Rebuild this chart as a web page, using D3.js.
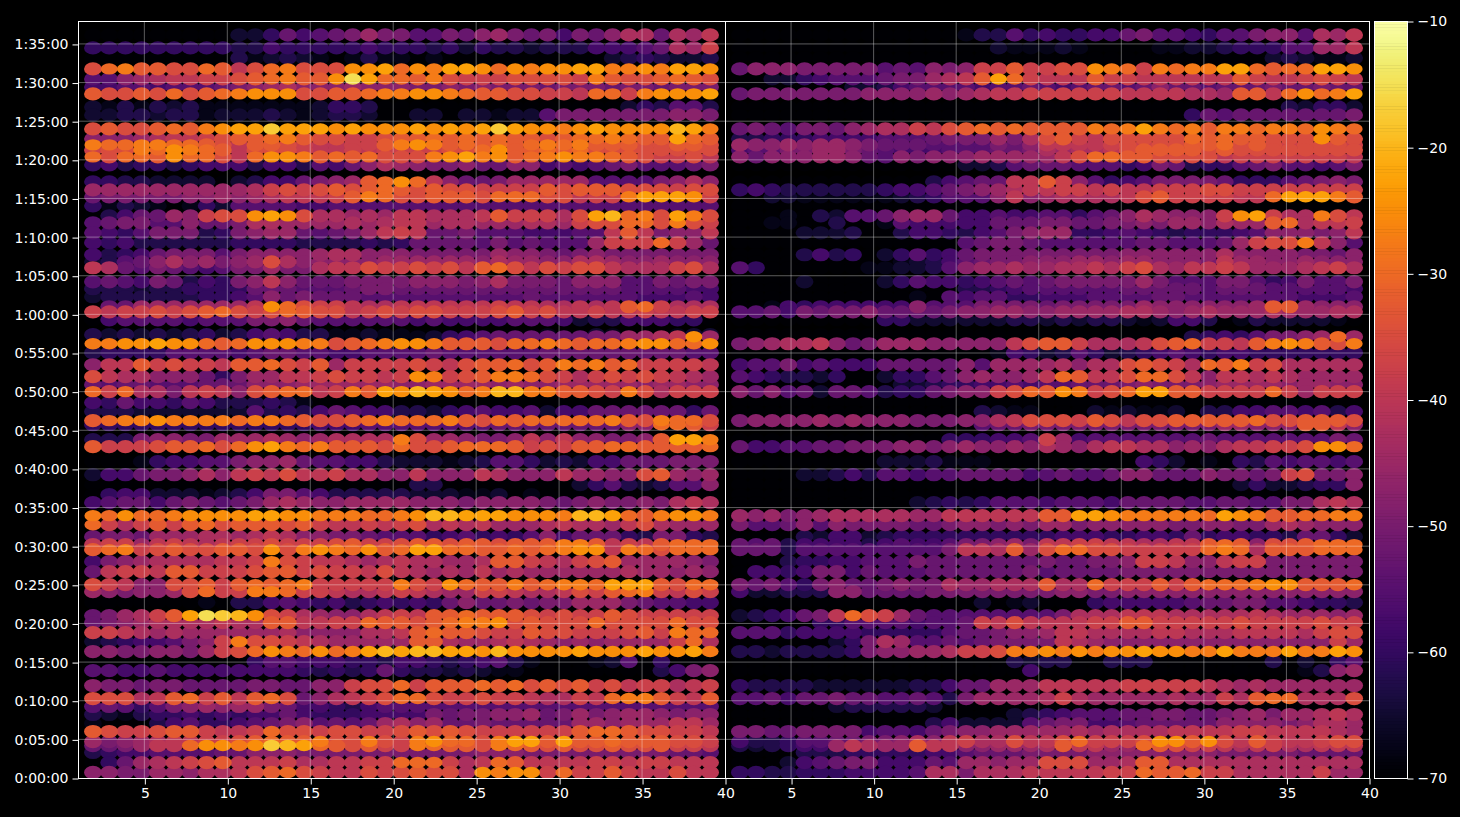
<!DOCTYPE html>
<html>
<head>
<meta charset="utf-8">
<script src="https://cdnjs.cloudflare.com/ajax/libs/d3/7.8.5/d3.min.js"></script>
<style>
html,body{margin:0;padding:0;background:#000;}
svg{display:block;}
text{font-family:"DejaVu Sans",sans-serif;}
</style>
</head>
<body>
<svg id="chart" width="1460" height="817"></svg>
<script>
// Level alphabet: a = -70 dB, each following letter is 2.5 dB louder.
const levelLetters = "abcdefghijklmnopqrstuvwxy";
const levelFloor = -70;
const levelStep = 2.5;

// Time of each row, in seconds.
const rowSeconds = [5770,5669,5591,5506,5428,5366,5312,5211,5149,5040,4963,4916,4877,4823,4761,4629,4567,4513,4443,4365,4311,4233,4156,4063,4008,3962,3853,3799,3737,3659,3620,3558,3442,3426,3372,3302,3209,3116,3054,3000,2915,2845,2775,2743,2627,2573,2456,2355,2278,2200,2138,2037,1967,1874,1812,1773,1680,1602,1501,1447,1362,1261,1207,1129,1059,982,904,834,718,617,555,493,423,361,283,252,198,120,43];

// Band positions along the horizontal axis.
const bandFirst = 1.9;
const bandSpacing = 0.979;
const bandCount = 39;

const leftRows = [
"aaaaaaaaac cehfghikii ggihjkihif ihjllhlkm",
"eeeeeeeeed dfeeeeefee edeceddcdd dfffghlkn",
"aaaaaaaaad bcdcbabdbb abaaaaaaaa aacdedccd",
"oqrppooqpm oqrooosstq srttsqsrss ttrrsrtts",
"ggjklmmnno pqrppswtqq pronnnoooo nrpoopqpo",
"ffggfggghi jkljjjkjjj iijijiiihi iihiihiii",
"poopoqopqr sssooppqrr ssrqppoonn mqqnrssst",
"cbdbdcdbbb bbbbceedaa aaaaaaaaaa aaacedggd",
"ccddcddbcc cdcbcddcaa ccaccbccgi iiiiiijji",
"opoopqprst tvtttstsss tststvtssr stssssutr",
"jjjklmmnop pqrpoonnop pqpqpqppop qqrqpptqp",
"rqqrrqqpom pponmmnnpr srpqpqpqrq rpppooppo",
"noorqsrqpm ooonmmnmnn nnooqsppqp qoooooooo",
"qoqqpsqqom qssrpqpqoo orstrspqrs rrqponnom",
"efdeedefff dffdgfhjlk jiijhhjjfg fghiggghi",
"eeddccccac dffhijkpqs qmjhhikkkk kggggijlj",
"kkkkkkkkkk lnonopopqp opoonnnnpo pppooonoo",
"hiiiiijjkj klmmmnprqo opppoqqqoo mnnrtttsn",
"ebdcbabecg gggffggggg gggggggggg ggggggggg",
"adfhhkjnoo stsollklkm mlllmpnnnl otuqrotro",
"ghiiggjhhi llkkkklklm mkllkkkllk nooqqoron",
"gfegiiidei jkkhghikmn mhhigggfff ggmpmijjm",
"fefdddddde eeeddddede hhhhgighgg gknnnqnkh",
"fdefhiiigi jjjjklljjj iiiiikjjih ijiiiiiii",
"cdghjljkij koljjjjjkk kkkkjlkkjj llkjjkjjj",
"mlhgihgfgi ikiilmmonn onompqomon oomlllnol",
"ghgfihdfei jmjhhhiiii jjjijliiih jjjggihii",
"dddcddeeee hhhggghiih hhhhhhhhhh hhhggggff",
"cddddddeef gjhihhhggg ggggggghgg ggggfffgf",
"ahhkkkkkkk msqonnmllm mmmmmnmmll mlmpqnlll",
"nmnnonopqo noqpoomnon oonnnopnom mnmmnmmnn",
"afggggfggg iijhgggggg fgffffgggf cddfffeea",
"dcdcdcdecd fgfddbbcbb aaaaaaaaba acbaaabcc",
"aaaaaaaaaa aaaaaaaaaa bcefghhhhh hiikklmsk",
"rrsstssqpq sssrropqrs srpppoqqrq pqqrssqqs",
"deeeeggggf ghhggffggg ghgggggghh hhhhhhhgg",
"jmmpnonnmp pqonpknnnn onmoppqopr qrpqnnnnm",
"omlljjjhei kkmmnonnmn srnoprrqon lnononmlk",
"hghhggghhh jjjkkkkkkj jkkkkjkjjk kkkkjkkjj",
"qnqllimnmj opqqmnrpts utsqruurrp ponrolnnn",
"fehffegfdd dedbaaaaaa aaaaaaaaaa aaaaaaaaa",
"dddccccccc gdedfhgffd dcefgffgcf fhhhhhheh",
"pqrrsrrrrq rrqpoopqrq qqrpoqpqqq qqrporqqo",
"eeeeeeeeee eeeefffggg ggggghhhhh hhhjjqqpn",
"dddijjiikk klkjkllllr okkjiijmjm jjiijpttr",
"pnnnoppqoq strqrpppoq oopqqqpnon ppqqppppq",
"aaabeffggi jjkhggffdc ccbcdggecd cffhhhiii",
"cffhiijljm nmommnlljj mjjjmljjjm kkjjopkjk",
"aaaaaaaaaa aaaaaaaaaa ddaaaaaaaa cegdcdggj",
"aeffcccbcd fiigfddddd cccbbcabaa aaaaaaaaa",
"fghhfhihgh iklkjjkkkk jjjijjjjih ijiijilml",
"rqsqqrssss ttssrrrqqr suutttsssr uutqprssr",
"qnlnpnpqop ppopnmmnmn olmlmkkklm llkmolkkk",
"hiihkkkllk lmljjiihgg gefgefegjf hhhediied",
"mnnkmnmlmn nonnnopnno ppoppopppr rpmnmpqqq",
"pqrnopoopp osorsrqspq ttqqppqpqr ssmrqoqqq",
"fijkllllmm nronmmlklm llkklppnml nopkkkkji",
"hmnnmppnnn oppnonnmom lklkmklkkk kkklkkjkj",
"onmjjoopnp qpqrnnnnnr onsqpprpqr rqtttpoqq",
"kjijjkoqnn rrqnnmllmn mlkknnmllm onpqrnmon",
"aaaaaaabad dfgfefdefe fehjhhihii kkkihggff",
"hiklnptwvu sonlkjjlmn mppqpppono nnponnnnn",
"hijkllllml lppmmnnqpp opqrrsopoo oqooooqoo",
"nnmlklkkkk kkljjjjllm pqpponnpoo nnnopnrqq",
"cdeffgijnr oonmlkkkkk pplkklmlkj kjkkkknql",
"jjiijjikno qsrqsqrtut uuttsussss tssstsstr",
"aaaaaaaaaa eggfffeedf fedefgdbaa abcgaeaaa",
"ggffgfffff fffededehe ddcdcbbaaa aaaaadfij",
"jiihiihhhh iihhjjnooq npppqpqopo pnomnnlmn",
"ooolmpqnpm pqohjlmnoq qonnonnmll nmqrrpnmp",
"ghgegijkjk kihffedfgg gggggggggg ggggggggg",
"dcbdeefefe ffhfeeefff fihiijjkhi kijkkjijj",
"baaadfgeef ghijghghkl jkhhihhhhh kkjkkkmmk",
"ponnoppnmm nqoonoonno poponnnnnn pqqpoonnm",
"kijklmmnno pqpprooron rsqqorttpt ppqpppoon",
"hhikmmqssr svutqpopnn rqpporqpop oopoopnnm",
"deffgggghh jjjiiiiiii iiiijjjiii iiiiiihhg",
"aehklmnopm mmnllmmnnq qqnlmqpmmm mnnmnnmmm",
"jjiikkjllm opqonmmono poolsrssnq nnpnmmomm"
];

const rightRows = [
"aaaaaaaaaa aaaabddgef eeffhiggfe ggijjglkm",
"aaaaaaaaaa aaaaaacbbb cbaaaabbcc deeeggkkm",
"aaaaaaaaaa aaaaaaaaaa aaaaaaaaaa aaacdcbbc",
"hjjjiiiiig hgjijnnpnn oosrqnrqrr ttqpqqtts",
"aaccefgggh iiklmptqnm mmpnnmmmmm mpnmmnonm",
"aaaaaaaccd fggggfgghg fghhghjhhg hhhihhihh",
"hiiiiiiijj jjkjklmmnn nnnnmmmmll kppmqsqrt",
"aaaaaaaaaa aaaaaaaaaa aaaaaaaaaa aaaadceec",
"aaaaaaaaaa aaaaaaaaaa aaaaaaaaeh ghhhhhhhi",
"hihgiihjkl lnmopqpqpp pprqrtrqrp rrqrrqsrq",
"ddeeeffffg gghiiikilo pnmoooooqp qppooospo",
"kjjkjkkjih hhggggihjm mmmnonoopp qoponooon",
"fggiikkihg fffggghhil kllmoppppo poooooooo",
"jhjjjkkjhg jijjjkkkkk moqqppoooo mnnnnnnnm",
"aaaaaaaaaa aaaaccdghh hgggefihde eghiggfgi",
"aaaaaaaaaa aadfghhmmp njgefgiiii heeeghiji",
"efedddddde ffghijklmm nnmnmmnnno onnnnnnnn",
"aaccbbbbbb cdegggjmjk llllmopnnn nmmqtttrp",
"aaaaaaaaaa aaaaaaaaaa aaaaaaaaaa aaaaaaaaa",
"aaabadcggh jkkhffgffg geghjlkjjj nstnllrom",
"aabbaadaab gfffffhhhi ihhiijikkj lkkpqlmmn",
"aaaacccdaa dffedfgijk keefgfedee efgjjjijm",
"aaaaaaaaaa aaaaghiihg ggggghhggg hknoormjg",
"aaaadfdeac egefhiiiii iiiijjjjjj ljjjjiihj",
"aaaaaaaaaa bcdfghiijj jkkjkkjjji mkkjjkjjj",
"geaaaaaabb ccdgjkklkk llmlnolkmm nmkkklmnl",
"aaaacaaaac egffefghgh iiiiikiggg iigefiggi",
"aaaaaaaaaa aaaaddefgg gggghhhhhg hhhgggggf",
"aaaaaaaaaa abagfggeef ffgggghhgg gggggfffg",
"aabfefffff fjgggiiiih iiiiikjjjj jjkppkjjj",
"gghfihiijh hhhijjkkjj kkkkllkjkl kkklkkkll",
"aaaaaaaaae eccccccddc dcddcbcffd abdccccba",
"aaaaaaaaaa aaaaaaaaaa aaaaaaaaaa aaaaaaaaa",
"aaaaaaaaaa aaaaaaaaaa aaaaaaaade fegiijkqk",
"ijkllmjhik kkjjjjjmop pnlllmopqn nmprsrpor",
"aaaaaaaaaa aaaaaabfec dgecdefgfe ffeeeeeee",
"fggifgfffh hhhhjgkkkk ljlloponlq prnolllll",
"gfeddceaac eeghjkjjkm qpmmoqqomj mmlmlkkkk",
"aaaaaaaaaa ccdeeffgfg ghhhijiiij kkkkjkkjj",
"jhjghchhgd eehijjnoqp srnoqttppn nnnqnknnn",
"aaaaaaaaaa aaaaaaaaaa aaaaaaaaaa aaaaaaaaa",
"aaaaaaaaaa aaaaadcbba aacbcbbcad dffggfgdf",
"ijjjjkjkjj jiiijjlmoo onpomooppp ppqoopppo",
"aaaaaaaaaa aaaaaghhii iiiiiiiiii kkjjjppmj",
"aaaaaaaaaa aaaeeeffgn kfgggggggh gggggggih",
"hffgghhiii jjijkjjkjl kjlmmlljkj lmmnnossq",
"aaaaaaaaac ccdbbbaaaa aaaaafecab aedgfggfg",
"aaaaccdfdg gfgghhhhfg hgghjjhhhj iihinoiij",
"aaaaaaaaaa aaaaaaaaaa aaaaaaaaaa aceccdeej",
"aaaaaaaaaa aaaaaaaaaa aaaaaaaaaa aaaaaaaaa",
"aaaaaaaaaa acdedegggf gggfhhhhgg hhggiilml",
"kjkijkllll lkkmmmmmmp pttsrrrrrq tsrppqqrr",
"igghjgjiii ihhijjijik kijjjjjiij jiiklkjjj",
"aaaadcffcd eeeeeeeeee fffeeffehe ffeedhhec",
"hghdffffdf gffgiijkim mnnmmllmmp qpjoopqqq",
"hhhdgggggg gggimmlpko qqoonnnnnq rqlpppqqq",
"aaadeeffgg gihhhhhhhi hhiijnnmjj mnniiiiii",
"affefiifhg gghhhhhhig hhhhiiiiii iiiiiiiii",
"ihigeijhhi jiilkklllp llqnnnpnpq qqrsspppq",
"fccdddjjhh hhiiiiiiii jjiijjjjjj jjjjjjjjj",
"aaaaaaaaaa aaaaacabca aaefffffgh hiiggfeed",
"cdefhimqon khgggggggg illlmmmlll llmlkkkjk",
"aaaaaeeggg gfgghnmomm mmnnppnnnn nonnnnonn",
"gggeffffee eeeghhijjk mmllllmmll lmmmmlnoo",
"aaaaaaceil kgghghiiii mlkjjjjjjj jjjjjjjnk",
"ddcddddeij jkklnnorrs rsrsstssrr trrrtrrts",
"aaaaaaaaaa aaaaaaadcd daadddaaaa aaadacaeg",
"aaaaaaaaaa aaaaaaaafa aaaaaaaaaa aaaaabdjk",
"eddddccccc cddfhhkkkm mmmmnnnnnm lklkkkkkk",
"gghfhhihhg ghgdikkkkl nlkkkkklkk nlpqqlllo",
"aaaaaacddd ddcaaaaaaa aaaaaaaaaa aaaaaaaaa",
"aaaaaaaaaa aaaaaaacde fggghhiihh ijkikklml",
"aaaaaaaaaa aadfccccgh iiffghhhhh jjjjijllk",
"iihhiiiifg gfhijjkkkk klkllllmmm mnnmmmmlk",
"fddegghhii jljmnllomm oqnnnossps ompnmmnoo",
"dcdeffkmlk kpmmjjkkkl pmmkkqponn mlmnllmmm",
"aaaadddeee eeffghhhii iijjjjjjjj iiiiihhhh",
"aaacfghiif ffhgkkjkko ookklpplll lllllllll",
"eeddeeefff fgllilllmm mmmnnqppqn nlllllnkk"
];

const xTickValues = [5,10,15,20,25,30,35,40];
const timeTickStep = 300;
const colorTickValues = [-10,-20,-30,-40,-50,-60,-70];

const xDomain = [1, 40];
const timeDomain = [0, 5878];
const colorDomain = [-70, -10];

const margin = {top: 21, bottom: 778};
const leftPanel = {x0: 78, x1: 725};
const rightPanel = {x0: 725, x1: 1369};
const bar = {x0: 1374, x1: 1407};
const loudRx = 8.5, quietRx = 8.9;
const loudRy = 5.7, quietRy = 6.6, loudFrom = -30;

const svg = d3.select("#chart");
const y = d3.scaleLinear().domain(timeDomain).range([margin.bottom, margin.top]);
const color = d3.scaleSequential(d3.interpolateInferno).domain(colorDomain);

function decodeRow(text) {
  const clean = text.replace(/\s/g, "");
  return d3.range(bandCount).map(i => levelFloor + levelLetters.indexOf(clean[i]) * levelStep);
}

function fmtTime(s) {
  const h = Math.floor(s / 3600), m = Math.floor(s % 3600 / 60), sec = s % 60;
  return `${h}:${String(m).padStart(2, "0")}:${String(sec).padStart(2, "0")}`;
}

function styleAxis(g) {
  g.select(".domain").remove();
  g.selectAll(".tick line").attr("stroke", "#fff").attr("stroke-width", 1);
  g.selectAll(".tick text").attr("fill", "#fff").attr("font-size", 14).attr("font-family", "DejaVu Sans");
}

function drawPanel(rows, panel) {
  const x = d3.scaleLinear().domain(xDomain).range([panel.x0, panel.x1]);
  const cells = [];
  rows.forEach((row, r) => {
    decodeRow(row).forEach((v, i) => {
      cells.push({t: rowSeconds[r], band: bandFirst + i * bandSpacing, v});
    });
  });
  // Quiet cells go first so louder ones sit on top of them.
  cells.sort((a, b) => d3.ascending(a.v, b.v));

  svg.append("g").selectAll("ellipse").data(cells).join("ellipse")
    .attr("cx", d => x(d.band))
    .attr("cy", d => y(d.t))
    .attr("rx", d => d.v >= loudFrom ? loudRx : quietRx)
    .attr("ry", d => d.v >= loudFrom ? loudRy : quietRy)
    .attr("fill", d => color(d.v));

  // Grid lines over the marks
  const grid = svg.append("g").attr("stroke", "#fff").attr("stroke-opacity", 0.36).attr("stroke-width", 1);
  grid.selectAll("line.v").data(xTickValues.filter(v => v < xDomain[1])).join("line")
    .attr("class", "v")
    .attr("x1", d => x(d)).attr("x2", d => x(d))
    .attr("y1", margin.top).attr("y2", margin.bottom);
  grid.selectAll("line.h").data(d3.range(timeTickStep, timeDomain[1], timeTickStep)).join("line")
    .attr("class", "h")
    .attr("x1", panel.x0).attr("x2", panel.x1)
    .attr("y1", d => y(d)).attr("y2", d => y(d));

  // Panel frame
  svg.append("rect")
    .attr("x", panel.x0 + 0.5).attr("y", margin.top + 0.5)
    .attr("width", panel.x1 - panel.x0).attr("height", margin.bottom - margin.top)
    .attr("fill", "none").attr("stroke", "#fff").attr("stroke-width", 1);

  const ax = d3.axisBottom(x).tickValues(xTickValues).tickSize(6).tickPadding(4).tickSizeOuter(0);
  styleAxis(svg.append("g").attr("transform", `translate(0.5,${margin.bottom + 0.5})`).call(ax));
}

drawPanel(leftRows, leftPanel);
drawPanel(rightRows, rightPanel);

// Time axis on the left edge
const yAxis = d3.axisLeft(y)
  .tickValues(d3.range(0, timeDomain[1], timeTickStep))
  .tickFormat(fmtTime).tickSize(6).tickPadding(4).tickSizeOuter(0);
styleAxis(svg.append("g").attr("transform", `translate(${leftPanel.x0 + 0.5},0.5)`).call(yAxis));

// Colour bar
const barScale = d3.scaleLinear().domain(colorDomain).range([margin.bottom, margin.top]);
svg.append("g").selectAll("rect").data(d3.range(colorDomain[0], colorDomain[1], 0.25)).join("rect")
  .attr("x", bar.x0).attr("width", bar.x1 - bar.x0)
  .attr("y", d => barScale(d + 0.25))
  .attr("height", d => barScale(d) - barScale(d + 0.25) + 0.5)
  .attr("fill", d => color(d + 0.125));
svg.append("rect")
  .attr("x", bar.x0 + 0.5).attr("y", margin.top + 0.5)
  .attr("width", bar.x1 - bar.x0).attr("height", margin.bottom - margin.top)
  .attr("fill", "none").attr("stroke", "#fff");
const cAxis = d3.axisRight(barScale).tickValues(colorTickValues).tickSize(6).tickPadding(4).tickSizeOuter(0);
styleAxis(svg.append("g").attr("transform", `translate(${bar.x1 + 0.5},0.5)`).call(cAxis));
</script>
</body>
</html>
